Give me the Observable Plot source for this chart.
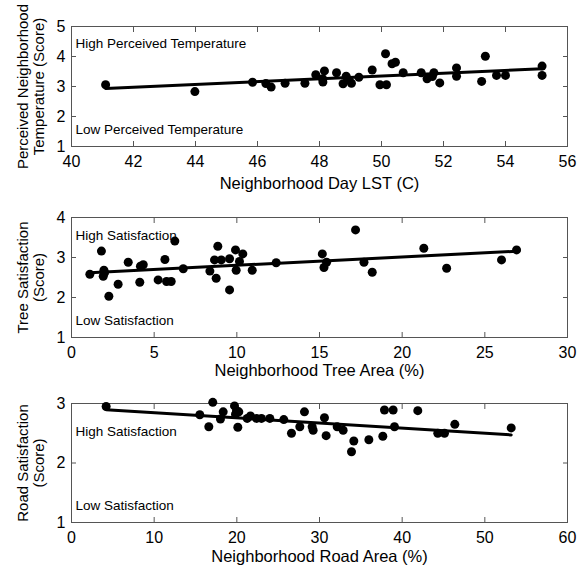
<!DOCTYPE html>
<html>
<head>
<meta charset="utf-8">
<script src="https://cdn.jsdelivr.net/npm/d3@7"></script>
<script src="https://cdn.jsdelivr.net/npm/@observablehq/plot@0.6"></script>
<style>
  body { margin: 0; background: #fff; font-family: "Liberation Sans", Arial, sans-serif; }
  #chart svg { display: block; }
</style>
</head>
<body>
<div id="chart"></div>
<script>
// Panel 1: Neighborhood Day LST vs Perceived Temperature
const lstX = [41.1, 43.98, 45.84, 46.27, 46.44, 46.89, 47.53, 47.88, 48.16, 48.11, 48.1, 48.55, 48.86, 48.76, 49.03, 48.95, 49.27, 49.70, 49.95, 50.16, 50.13, 50.34, 50.45, 50.70, 51.28, 51.47, 51.64, 51.69, 51.88, 52.42, 52.42, 53.23, 53.35, 53.71, 54.0, 55.18, 55.18];
const tempY = [3.06, 2.83, 3.14, 3.10, 2.98, 3.11, 3.11, 3.39, 3.52, 3.15, 3.26, 3.46, 3.34, 3.09, 3.11, 3.22, 3.31, 3.55, 3.06, 3.06, 4.09, 3.76, 3.81, 3.46, 3.46, 3.26, 3.33, 3.46, 3.12, 3.62, 3.34, 3.17, 4.01, 3.37, 3.37, 3.68, 3.37];

// Panel 2: Neighborhood Tree Area vs Tree Satisfaction
const treeX = [1.11, 1.81, 1.96, 1.92, 2.0, 2.26, 2.82, 3.43, 4.13, 4.17, 4.34, 5.24, 5.65, 5.75, 6.03, 6.25, 6.76, 8.37, 8.65, 8.85, 8.75, 9.06, 9.56, 9.56, 9.92, 10.16, 9.96, 10.36, 10.93, 12.38, 15.17, 15.27, 15.43, 17.18, 17.69, 18.19, 21.31, 22.69, 26.01, 26.92];
const treeY = [2.58, 3.16, 2.68, 2.53, 2.62, 2.03, 2.33, 2.88, 2.38, 2.78, 2.82, 2.44, 2.95, 2.40, 2.40, 3.41, 2.72, 2.66, 2.94, 3.28, 2.48, 2.94, 2.97, 2.19, 3.19, 2.90, 2.68, 3.09, 2.68, 2.87, 3.09, 2.75, 2.88, 3.69, 2.88, 2.63, 3.23, 2.73, 2.94, 3.19];

// Panel 3: Neighborhood Road Area vs Road Satisfaction
const roadX = [4.19, 15.52, 16.61, 17.09, 18.02, 18.35, 19.72, 19.96, 20.24, 19.84, 20.12, 21.25, 21.65, 22.38, 22.98, 23.99, 25.68, 26.61, 27.62, 28.18, 29.23, 29.11, 30.60, 30.80, 32.14, 32.86, 33.87, 34.15, 35.97, 37.66, 37.86, 38.91, 39.07, 41.89, 44.31, 45.12, 46.37, 53.19];
const roadY = [2.95, 2.81, 2.61, 3.02, 2.74, 2.86, 2.96, 2.88, 2.86, 2.82, 2.60, 2.75, 2.79, 2.75, 2.75, 2.75, 2.73, 2.50, 2.61, 2.86, 2.55, 2.61, 2.76, 2.46, 2.61, 2.55, 2.19, 2.37, 2.39, 2.45, 2.89, 2.89, 2.61, 2.88, 2.50, 2.50, 2.65, 2.59];

const panels = [
  {xs: lstX, ys: tempY, xDomain: [40, 56], xTicks: [40, 42, 44, 46, 48, 50, 52, 54, 56], yDomain: [1, 5], yTicks: [1, 2, 3, 4, 5],
   xLabel: "Neighborhood Day LST (C)", yLabel: "Perceived Neighborhood\nTemperature (Score)",
   high: "High Perceived Temperature", low: "Low Perceived Temperature", highDy: 12,
   height: 195, marginTop: 26, marginBottom: 49, labelDy: 42},
  {xs: treeX, ys: treeY, xDomain: [0, 30], xTicks: [0, 5, 10, 15, 20, 25, 30], yDomain: [1, 4], yTicks: [1, 2, 3, 4],
   xLabel: "Neighborhood Tree Area (%)", yLabel: "Tree Satisfaction\n(Score)",
   high: "High Satisfaction", low: "Low Satisfaction", highDy: 13,
   height: 187, marginTop: 22, marginBottom: 45, labelDy: 38},
  {xs: roadX, ys: roadY, xDomain: [0, 60], xTicks: [0, 10, 20, 30, 40, 50, 60], yDomain: [1, 3], yTicks: [1, 2, 3],
   xLabel: "Neighborhood Road Area (%)", yLabel: "Road Satisfaction\n(Score)",
   high: "High Satisfaction", low: "Low Satisfaction", highDy: 23,
   height: 188, marginTop: 21, marginBottom: 48, labelDy: 39}
];

const font = "Liberation Sans, Arial, sans-serif";
const container = document.getElementById("chart");

for (const p of panels) {
  const data = p.xs.map((x, i) => ({x, y: p.ys[i]}));
  const chart = Plot.plot({
    width: 583,
    height: p.height,
    marginLeft: 71,
    marginRight: 16,
    marginTop: p.marginTop,
    marginBottom: p.marginBottom,
    style: {fontFamily: font, fontSize: "15px", color: "#000", background: "#fff"},
    x: {domain: p.xDomain, label: null},
    y: {domain: p.yDomain, label: null},
    marks: [
      Plot.frame({stroke: "#555", strokeWidth: 1}),
      Plot.axisX(p.xTicks, {anchor: "bottom", tickSize: -5, tickPadding: 14, tickFormat: d => String(d), stroke: "#555", fontSize: 16, label: null}),
      Plot.axisX(p.xTicks, {anchor: "top", tickSize: -5, tickFormat: () => "", stroke: "#555", label: null}),
      Plot.axisY(p.yTicks, {anchor: "left", tickSize: -5, tickPadding: 11, tickFormat: d => String(d), stroke: "#555", fontSize: 16, label: null}),
      Plot.axisY(p.yTicks, {anchor: "right", tickSize: -5, tickFormat: () => "", stroke: "#555", label: null}),
      Plot.text([p.xLabel], {frameAnchor: "bottom", dy: p.labelDy, text: d => d, fontSize: 16.5, fill: "#000"}),
      Plot.text([p.yLabel], {frameAnchor: "left", dx: -41, rotate: -90, textAnchor: "middle", lineAnchor: "middle", text: d => d, fontSize: 15, lineHeight: 1.1, fill: "#000"}),
      Plot.text([p.high], {frameAnchor: "top-left", dx: 4, dy: p.highDy, textAnchor: "start", text: d => d, fontSize: 13.5, fill: "#000"}),
      Plot.text([p.low], {frameAnchor: "bottom-left", dx: 4, dy: -13, textAnchor: "start", text: d => d, fontSize: 13.5, fill: "#000"}),
      Plot.linearRegressionY(data, {x: "x", y: "y", ci: 0, stroke: "#000", strokeWidth: 3}),
      Plot.dot(data, {x: "x", y: "y", r: 4.5, fill: "#000", stroke: "none"})
    ]
  });
  container.appendChild(chart);
}
</script>
</body>
</html>
